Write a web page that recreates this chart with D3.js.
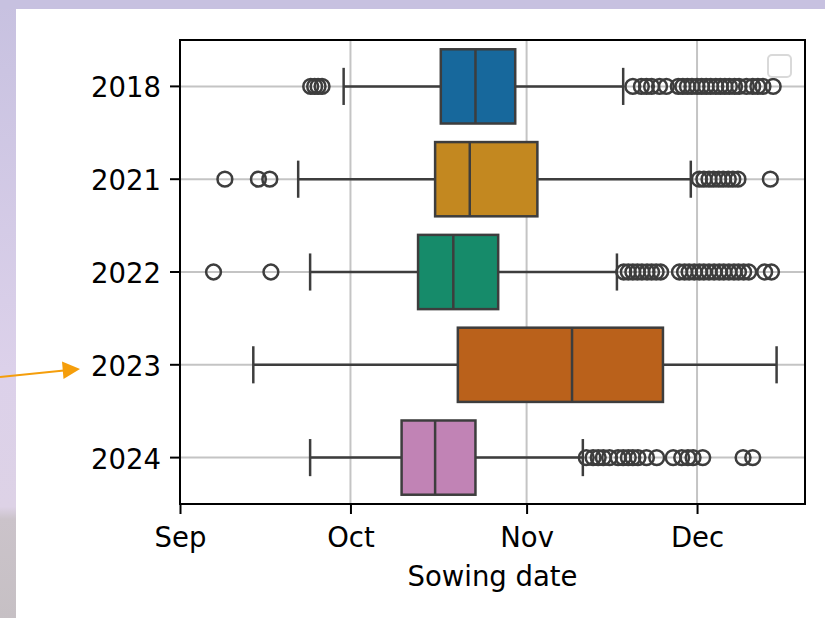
<!DOCTYPE html>
<html>
<head>
<meta charset="utf-8">
<script src="https://cdn.jsdelivr.net/npm/d3@7"></script>
<style>
  body { margin: 0; background: #fff; }
  svg text { font-family: "DejaVu Sans", sans-serif; fill: #000; }
</style>
</head>
<body>
<svg id="chart" width="825" height="618"></svg>
<script>
// sowing seasons, values are days after 1 Sep
const years = ['2018', '2021', '2022', '2023', '2024'];

// [low whisker, Q1, median, Q3, high whisker]
const stats2018 = [28.8, 45.9, 52.0, 59.0, 78.0];
const stats2021 = [20.8, 44.9, 51.0, 62.9, 89.9];
const stats2022 = [22.9, 41.9, 48.1, 56.0, 76.9];
const stats2023 = [12.9, 48.9, 69.0, 85.0, 105.0];
const stats2024 = [22.9, 39.0, 44.9, 52.0, 70.9];

const fliers2018 = [23.0, 23.7, 24.3, 25.0,
  79.7, 81.2, 82.1, 83.0, 84.4, 85.6, 87.7, 88.5, 89.3, 90.1, 91.0, 91.8,
  92.6, 93.4, 94.3, 95.1, 95.9, 96.7, 97.6, 98.4, 99.7, 100.8, 101.7, 102.6, 104.4];
const fliers2021 = [7.9, 13.8, 15.8,
  91.4, 92.2, 93.1, 93.9, 94.8, 95.6, 96.5, 97.3, 98.2, 103.9];
const fliers2022 = [5.9, 16.0,
  78.1, 78.9, 79.7, 80.5, 81.3, 82.2, 83.0, 83.8, 84.6,
  87.9, 88.8, 89.6, 90.5, 91.4, 92.2, 93.1, 94.0, 94.9, 95.7, 96.6, 97.5,
  98.3, 99.2, 100.1, 102.9, 104.1];
const fliers2023 = [];
const fliers2024 = [71.5, 72.7, 73.6, 74.5, 75.6, 77.1, 78.0, 78.9, 79.7, 80.6,
  82.1, 83.9, 86.8, 88.3, 89.4, 90.3, 92.0, 99.1, 100.8];

const monthLabels = ['Sep', 'Oct', 'Nov', 'Dec'];
const colors = ['#17689c', '#c38820', '#168b6a', '#ba611b', '#c183b5'];

const allStats = [stats2018, stats2021, stats2022, stats2023, stats2024];
const allFliers = [fliers2018, fliers2021, fliers2022, fliers2023, fliers2024];

const rows = years.map((y, i) => ({
  year: y,
  s: allStats[i],
  fliers: allFliers[i],
  color: colors[i]
}));

const W = 825, H = 618;
const margin = {top: 40, right: 20, bottom: 114, left: 180};
const lineCol = '#3d3d3d';

const svg = d3.select('#chart');

// screenshot surroundings
const defs = svg.append('defs');
const grad = defs.append('linearGradient')
  .attr('id', 'sideGrad')
  .attr('x1', 0).attr('y1', 0).attr('x2', 0).attr('y2', 1);
grad.append('stop').attr('offset', '0%').attr('stop-color', '#c7c1e0');
grad.append('stop').attr('offset', '60%').attr('stop-color', '#dcd1ea');
grad.append('stop').attr('offset', '82%').attr('stop-color', '#ddd2e6');
grad.append('stop').attr('offset', '84%').attr('stop-color', '#cbc3ca');
grad.append('stop').attr('offset', '100%').attr('stop-color', '#c6c0c4');

svg.append('rect').attr('width', W).attr('height', H).attr('fill', '#fff');
svg.append('rect').attr('width', 16).attr('height', H).attr('fill', 'url(#sideGrad)');
svg.append('rect').attr('width', W).attr('height', 9).attr('fill', '#c7c1e0');

const base = Date.UTC(2001, 8, 1);
const toDate = d => new Date(base + d * 864e5);

const x = d3.scaleUtc()
  .domain([toDate(0), toDate(110)])
  .range([margin.left, W - margin.right]);

const y = d3.scaleBand()
  .domain(years)
  .range([margin.top, H - margin.bottom]);

const bw = y.bandwidth() * 0.8;
const monthTicks = d3.utcMonth.range(toDate(0), toDate(111));

// grid
const grid = svg.append('g');
grid.selectAll('.vg').data(monthTicks).enter().append('line')
  .attr('x1', d => x(d)).attr('x2', d => x(d))
  .attr('y1', margin.top).attr('y2', H - margin.bottom)
  .attr('stroke', '#c4c4c4').attr('stroke-width', 2);
grid.selectAll('.hg').data(years).enter().append('line')
  .attr('x1', margin.left).attr('x2', W - margin.right)
  .attr('y1', d => y(d) + y.bandwidth() / 2).attr('y2', d => y(d) + y.bandwidth() / 2)
  .attr('stroke', '#c4c4c4').attr('stroke-width', 2);

// boxes
const g = svg.selectAll('.box').data(rows).enter().append('g')
  .attr('transform', d => `translate(0,${y(d.year) + y.bandwidth() / 2})`);

g.append('line')
  .attr('x1', d => x(toDate(d.s[0]))).attr('x2', d => x(toDate(d.s[1])))
  .attr('stroke', lineCol).attr('stroke-width', 2.5);
g.append('line')
  .attr('x1', d => x(toDate(d.s[3]))).attr('x2', d => x(toDate(d.s[4])))
  .attr('stroke', lineCol).attr('stroke-width', 2.5);
[0, 4].forEach(k => {
  g.append('line')
    .attr('x1', d => x(toDate(d.s[k]))).attr('x2', d => x(toDate(d.s[k])))
    .attr('y1', -bw / 4).attr('y2', bw / 4)
    .attr('stroke', lineCol).attr('stroke-width', 2.5);
});
g.append('rect')
  .attr('x', d => x(toDate(d.s[1])))
  .attr('width', d => x(toDate(d.s[3])) - x(toDate(d.s[1])))
  .attr('y', -bw / 2).attr('height', bw)
  .attr('fill', d => d.color)
  .attr('stroke', lineCol).attr('stroke-width', 2.5);
g.append('line')
  .attr('x1', d => x(toDate(d.s[2]))).attr('x2', d => x(toDate(d.s[2])))
  .attr('y1', -bw / 2).attr('y2', bw / 2)
  .attr('stroke', lineCol).attr('stroke-width', 2.5);
g.selectAll('circle').data(d => d.fliers).enter().append('circle')
  .attr('cx', d => x(toDate(d))).attr('cy', 0).attr('r', 7.4)
  .attr('fill', 'none').attr('stroke', lineCol).attr('stroke-width', 2.5);

// axes
const xAxis = d3.axisBottom(x)
  .tickValues(monthTicks)
  .tickFormat((d, i) => monthLabels[i])
  .tickSize(10).tickPadding(13);
const yAxis = d3.axisLeft(y).tickSize(10).tickPadding(9);

const gx = svg.append('g')
  .attr('transform', `translate(0,${H - margin.bottom})`)
  .call(xAxis);
const gy = svg.append('g')
  .attr('transform', `translate(${margin.left},0)`)
  .call(yAxis);
gy.selectAll('text').attr('dy', '0.4em');
[gx, gy].forEach(a => {
  a.select('.domain').remove();
  a.selectAll('line').attr('stroke', '#000').attr('stroke-width', 2);
  a.selectAll('text').style('font-size', '27.5px');
});

// frame
svg.append('rect')
  .attr('x', margin.left).attr('y', margin.top)
  .attr('width', W - margin.right - margin.left)
  .attr('height', H - margin.bottom - margin.top)
  .attr('fill', 'none').attr('stroke', '#000').attr('stroke-width', 2);

// empty legend
svg.append('rect')
  .attr('x', 768).attr('y', 55).attr('width', 23).attr('height', 22).attr('rx', 4)
  .attr('fill', '#fff').attr('fill-opacity', 0.8)
  .attr('stroke', '#d9d9d9').attr('stroke-width', 2);

svg.append('text')
  .attr('x', (margin.left + W - margin.right) / 2).attr('y', 586)
  .attr('text-anchor', 'middle')
  .style('font-size', '27.5px')
  .text('Sowing date');

// annotation arrow
svg.append('line')
  .attr('x1', 0).attr('y1', 377).attr('x2', 64).attr('y2', 370.5)
  .attr('stroke', '#f59e0b').attr('stroke-width', 2);
svg.append('path')
  .attr('d', 'M80,369 L62,361.5 L63.5,379 Z')
  .attr('fill', '#f59e0b');
</script>
</body>
</html>
